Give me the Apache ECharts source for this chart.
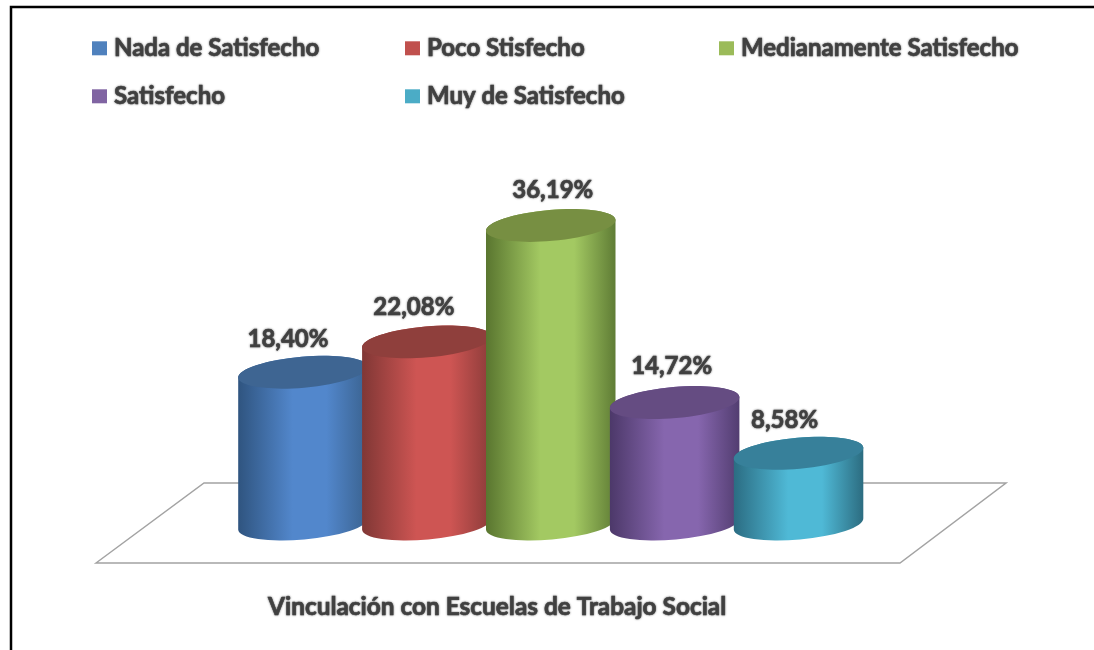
<!DOCTYPE html>
<html>
<head>
<meta charset="utf-8">
<style>
  html, body { margin: 0; padding: 0; background: #fff; }
  #main { width: 1094px; height: 650px; }
</style>
</head>
<body>
<div id="main"></div>
<script src="https://cdn.jsdelivr.net/npm/echarts@6/dist/echarts.min.js"></script>
<script>
var categories = ['Nada de Satisfecho', 'Poco Stisfecho', 'Medianamente Satisfecho', 'Satisfecho', 'Muy de Satisfecho']
var values = [18.40, 22.08, 36.19, 14.72, 8.58]
var chartTitle = 'Vinculación con Escuelas de Trabajo Social'

// legend square colour, then side shading (edge, middle, far edge) and the lid
var colors = ['#4f81bd', '#c0504d', '#9bbb59', '#8064a2', '#4bacc6']
var shades = [
  ['#2f547f', '#5287cc', '#3a628f', '#3e6592'],
  ['#803735', '#ce5553', '#8a3b39', '#8f3f3c'],
  ['#59752f', '#a3c962', '#5f7c35', '#778f42'],
  ['#4c3869', '#8666ae', '#523d70', '#654c82'],
  ['#2b6c82', '#4fb9d6', '#2c6c80', '#37809a']
]
var legendPos = [[92, 36], [405, 36], [719, 36], [92, 84], [405, 84]]
var labelShift = [[-15, -33], [-13, -35], [2, -35], [-3, -36], [-14, -33]]

var textColor = '#404040'
var rx = 65
var ry = 15.5
var tiltDeg = -5
var tilt = tiltDeg * Math.PI / 180

function label(v) {
  return v.toFixed(2).replace('.', ',') + '%'
}

function renderCylinder(i) {
  return function (params, api) {
    var top = api.coord([api.value(0), api.value(1)])
    var base = api.coord([api.value(0), 0])
    var dx = rx * Math.cos(tilt)
    var dy = rx * Math.sin(tilt)
    var arc = ' A ' + rx + ' ' + ry + ' ' + tiltDeg + ' 0 0 '
    var side = 'M ' + (top[0] - dx) + ' ' + (top[1] - dy) +
      ' L ' + (base[0] - dx) + ' ' + (base[1] - dy) +
      arc + (base[0] + dx) + ' ' + (base[1] + dy) +
      ' L ' + (top[0] + dx) + ' ' + (top[1] + dy) +
      arc + (top[0] - dx) + ' ' + (top[1] - dy) + ' Z'
    return {
      type: 'group',
      children: [
        {
          type: 'path',
          shape: { pathData: side },
          style: {
            fill: new echarts.graphic.LinearGradient(0, 0, 1, 0, [
              { offset: 0, color: shades[i][0] },
              { offset: 0.42, color: shades[i][1] },
              { offset: 0.68, color: shades[i][1] },
              { offset: 1, color: shades[i][2] }
            ])
          }
        },
        {
          type: 'ellipse',
          shape: { cx: top[0], cy: top[1], rx: rx, ry: ry },
          rotation: -tilt,
          originX: top[0],
          originY: top[1],
          style: { fill: shades[i][3] }
        },
        {
          type: 'text',
          x: top[0] + labelShift[i][0],
          y: top[1] + labelShift[i][1],
          style: {
            text: label(api.value(1)),
            font: 'bold 24px Lato',
            fill: textColor,
            align: 'center',
            verticalAlign: 'middle',
            stroke: textColor,
            lineWidth: 0.6,
            textShadowColor: 'rgba(64,64,64,0.7)',
            textShadowBlur: 2
          }
        }
      ]
    }
  }
}

var chart = echarts.init(document.getElementById('main'))

chart.setOption({
  backgroundColor: '#fff',
  animation: false,
  title: {
    text: chartTitle,
    left: 268,
    top: 595,
    padding: 0,
    textStyle: {
      fontFamily: 'Lato',
      fontWeight: 'bold',
      fontSize: 24.4,
      color: textColor,
      textBorderColor: textColor,
      textBorderWidth: 0.6,
      textShadowColor: 'rgba(64,64,64,0.7)',
      textShadowBlur: 2
    }
  },
  legend: categories.map(function (name, i) {
    return {
      data: [name],
      left: legendPos[i][0],
      top: legendPos[i][1],
      padding: 0,
      icon: 'rect',
      itemWidth: 15,
      itemHeight: 14,
      selectedMode: false,
      textStyle: {
        fontFamily: 'Lato',
        fontWeight: 'bold',
        fontSize: 24,
        color: textColor,
        padding: [0, 0, 0, 2],
        textBorderColor: textColor,
        textBorderWidth: 0.6,
        textShadowColor: 'rgba(64,64,64,0.7)',
        textShadowBlur: 2
      }
    }
  }),
  grid: { left: 241, top: 194, width: 619.5, height: 330 },
  xAxis: { type: 'category', data: categories, show: false },
  yAxis: { type: 'value', min: 0, max: 40, show: false },
  graphic: [
    {
      type: 'polygon',
      z: 0,
      shape: { points: [[96, 563], [204, 483], [1006, 483], [900, 563]] },
      style: { fill: '#fff', stroke: '#a3a3a3', lineWidth: 1.5 }
    },
    {
      type: 'polyline',
      z: 0,
      shape: { points: [[11, 650], [11, 7], [1094, 7]] },
      style: { fill: null, stroke: '#000', lineWidth: 2.5 }
    }
  ],
  series: categories.map(function (name, i) {
    return {
      name: name,
      type: 'custom',
      z: 2 + i,
      clip: false,
      itemStyle: { color: colors[i] },
      encode: { x: 0, y: 1 },
      data: [[i, values[i]]],
      renderItem: renderCylinder(i)
    }
  })
})
</script>
</body>
</html>
